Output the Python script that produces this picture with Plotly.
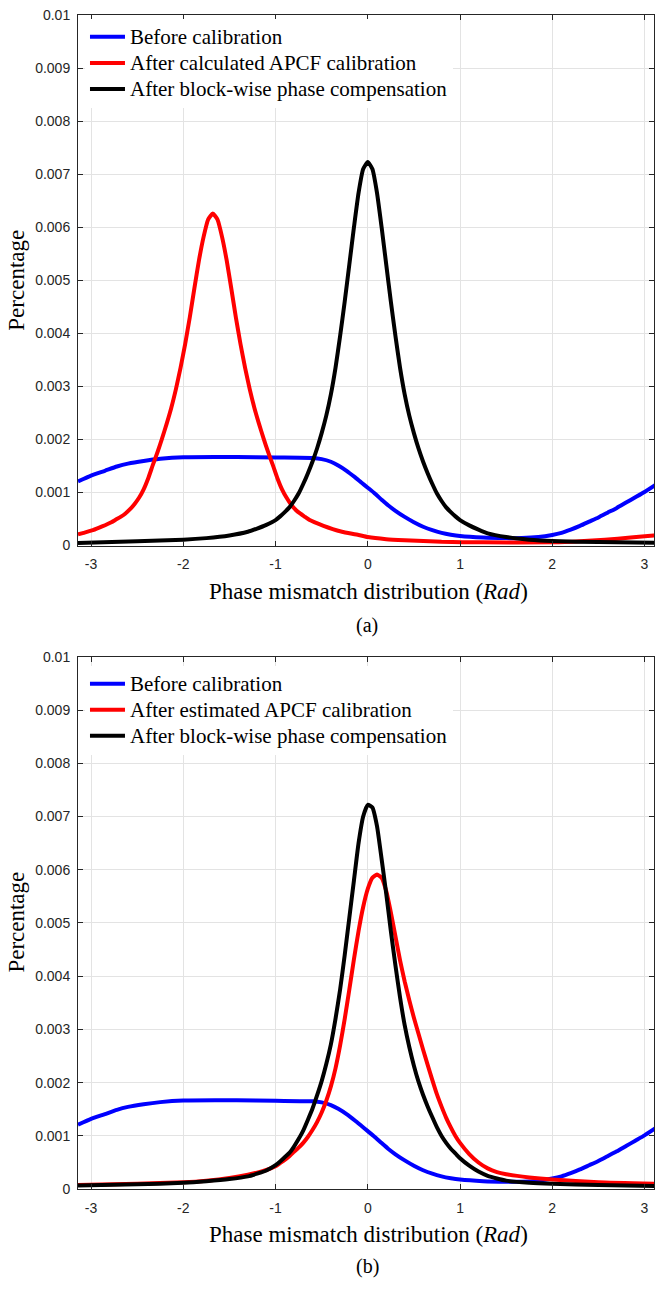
import plotly.graph_objects as go

# ---------------- data ----------------
PI = 3.14159265

# "Before calibration" (same in both panels)
blue_x = [-PI, -3.0, -2.85, -2.72, -2.6, -2.43, -2.25, -2.0, -1.42, -1.0, -0.6, -0.5, -0.4, -0.32,
          -0.23, -0.14, -0.07, 0.0, 0.07, 0.15, 0.22, 0.3, 0.4, 0.5, 0.6, 0.7, 0.8, 0.9, 1.0, 1.25,
          1.5, 1.67, 1.85, 2.0, 2.1, 2.2, 2.3, 2.4, 2.5, 2.6, 2.7, 2.8, 2.9, 3.0, PI]
blue_y = [0.00121, 0.00132, 0.00141, 0.00149, 0.001545, 0.001595, 0.001635, 0.001665, 0.00167, 0.00166,
          0.00165, 0.00163, 0.00158, 0.00151, 0.00141, 0.00129, 0.00119, 0.00109, 0.00099, 0.000865,
          0.00076, 0.000655, 0.00054, 0.00044, 0.000355, 0.00029, 0.00024, 0.000205, 0.00018,
          0.00015, 0.00014, 0.00014, 0.00016, 0.00020, 0.00024, 0.00030, 0.00037, 0.00045, 0.00053,
          0.00062, 0.00071, 0.00081, 0.00091, 0.00101, 0.00117]

# (a) "After calculated APCF calibration"
red_a_x = [-PI, -3.08, -2.98, -2.88, -2.78, -2.73, -2.68, -2.63, -2.58, -2.53, -2.48, -2.43, -2.38,
           -2.33, -2.28, -2.23, -2.18, -2.13, -2.08, -2.03, -1.98, -1.93, -1.88, -1.83, -1.78, -1.73,
           -1.68, -1.63, -1.58, -1.53, -1.48, -1.43, -1.38, -1.33, -1.28, -1.23, -1.18, -1.13, -1.08,
           -1.03, -0.98, -0.93, -0.88, -0.83, -0.78, -0.73, -0.68, -0.63, -0.58, -0.48, -0.38, -0.28,
           -0.1, 0.0, 0.2, 0.4, 0.8, 1.25, 2.0, 2.3, 2.57, 2.85, 3.1, PI]
red_a_y = [0.00021, 0.00024, 0.00029, 0.00036, 0.00044, 0.00049, 0.00054, 0.00060, 0.00068, 0.00078,
           0.00090, 0.00106, 0.00127, 0.00152, 0.00176, 0.00202, 0.00230, 0.00260, 0.00295, 0.00335,
           0.00380, 0.00430, 0.00485, 0.00538, 0.00582, 0.00615, 0.00626, 0.00615, 0.00582, 0.00538,
           0.00485, 0.00430, 0.00380, 0.00335, 0.00295, 0.00260, 0.00230, 0.00202, 0.00176, 0.00152,
           0.00127, 0.00106, 0.00090, 0.00077, 0.00067, 0.00060, 0.00054, 0.00048, 0.00044, 0.00037,
           0.00031, 0.00026, 0.00020, 0.00016, 0.00012, 0.00010, 0.00007, 0.00006, 0.00006, 0.00008,
           0.00011, 0.00015, 0.00019, 0.00020]

# (a) "After block-wise phase compensation"
black_a_x = [-PI, -2.5, -2.0, -1.75, -1.5, -1.3, -1.2, -1.1,
             -1.0, -0.95, -0.9, -0.85, -0.8, -0.75, -0.7, -0.65, -0.6, -0.55, -0.5, -0.45, -0.4,
             -0.35, -0.3, -0.25, -0.2, -0.15, -0.1, -0.05, 0.0, 0.05, 0.1, 0.15, 0.2, 0.25, 0.3,
             0.35, 0.4, 0.45, 0.5, 0.55, 0.6, 0.65, 0.7, 0.75, 0.8, 0.85, 0.9, 0.95, 1.0,
             1.1, 1.2, 1.3, 1.5, 1.75, 2.0, 2.5, PI]
black_a_y = [0.00005, 0.00008, 0.00011, 0.00014, 0.00019, 0.00026, 0.00032, 0.00039,
             0.00048, 0.00055, 0.00063, 0.00072, 0.00084, 0.00098, 0.00116, 0.00136, 0.00158,
             0.00183, 0.00212, 0.00245, 0.00285, 0.00335, 0.00395, 0.00460, 0.00530, 0.00600,
             0.00665, 0.00710, 0.00723, 0.00710, 0.00665, 0.00600, 0.00530, 0.00460, 0.00395,
             0.00335, 0.00285, 0.00245, 0.00212, 0.00183, 0.00158, 0.00136, 0.00116, 0.00098,
             0.00084, 0.00072, 0.00063, 0.00055, 0.00048,
             0.00038, 0.00030, 0.00023, 0.00016, 0.00011, 0.000085, 0.000065, 0.00005]

# (b) "After estimated APCF calibration"
red_b_x = [-PI, -2.5, -2.0, -1.75, -1.5, -1.3, -1.2, -1.1,
           -1.0, -0.95, -0.9, -0.85, -0.8, -0.75, -0.7, -0.65, -0.6, -0.55, -0.5, -0.45, -0.4,
           -0.35, -0.3, -0.25, -0.2, -0.15, -0.1, -0.05, 0.0, 0.05, 0.1,
           0.15, 0.2, 0.25, 0.3, 0.35, 0.4, 0.45, 0.5, 0.55, 0.6, 0.65, 0.7, 0.75, 0.8, 0.85, 0.9,
           0.95, 1.0, 1.1, 1.2, 1.3, 1.4, 1.5, 1.75, 2.0, 2.5, PI]
red_b_y = [0.00008, 0.00010, 0.00013, 0.00016, 0.00021, 0.00027, 0.00031, 0.00036,
           0.00043, 0.00049, 0.00055, 0.00062, 0.00070, 0.00078, 0.00087, 0.00098, 0.00111,
           0.00126, 0.00144, 0.00166, 0.00193, 0.00227, 0.00270, 0.00320, 0.00375, 0.00432,
           0.00485, 0.00530, 0.00564, 0.00585, 0.00591,
           0.00585, 0.00560, 0.00520, 0.00475, 0.00430, 0.00390, 0.00355, 0.00322, 0.00292,
           0.00262, 0.00233, 0.00205, 0.00178, 0.00155, 0.00134, 0.00116, 0.00100, 0.00087,
           0.00066, 0.00050, 0.00039, 0.00032, 0.00028, 0.00022, 0.00018, 0.00013, 0.00010]

# (b) "After block-wise phase compensation"
black_b_x = [-PI, -2.5, -2.0, -1.75, -1.5, -1.3, -1.2, -1.1,
             -1.0, -0.95, -0.9, -0.85, -0.8, -0.75, -0.7, -0.65, -0.6, -0.55, -0.5, -0.45, -0.4,
             -0.35, -0.3, -0.25, -0.2, -0.15, -0.1, -0.05, 0.0, 0.05, 0.1, 0.15, 0.2, 0.25, 0.3,
             0.35, 0.4, 0.45, 0.5, 0.55, 0.6, 0.65, 0.7, 0.75, 0.8, 0.85, 0.9, 0.95, 1.0,
             1.1, 1.2, 1.3, 1.4, 1.5, 1.75, 2.0, 2.5, PI]
black_b_y = [0.00007, 0.00009, 0.00012, 0.00015, 0.00019, 0.00024, 0.00029, 0.00035,
             0.00045, 0.00052, 0.00060, 0.00068, 0.00080, 0.00094, 0.00110, 0.00130, 0.00151,
             0.00176, 0.00203, 0.00235, 0.00272, 0.00320, 0.00375, 0.00440, 0.00510, 0.00580,
             0.00650, 0.00700, 0.00722, 0.00717, 0.00682, 0.00620, 0.00555, 0.00485, 0.00420,
             0.00360, 0.00308, 0.00267, 0.00232, 0.00202, 0.00177, 0.00155, 0.00135, 0.00116,
             0.00100, 0.00087, 0.00076, 0.00067, 0.00058,
             0.00044, 0.00033, 0.00025, 0.00020, 0.00016, 0.00012, 0.00010, 0.00008, 0.00006]

names_a = ["Before calibration", "After calculated APCF calibration", "After block-wise phase compensation"]
names_b = ["Before calibration", "After estimated APCF calibration", "After block-wise phase compensation"]
colors = ["#0000ff", "#ff0000", "#000000"]

x_ticks = [-3, -2, -1, 0, 1, 2, 3]
x_ticktext = ["-3", "-2", "-1", "0", "1", "2", "3"]
y_ticks = [0, 0.001, 0.002, 0.003, 0.004, 0.005, 0.006, 0.007, 0.008, 0.009, 0.01]
y_ticktext = ["0", "0.001", "0.002", "0.003", "0.004", "0.005", "0.006", "0.007", "0.008", "0.009", "0.01"]

xlabel_text = "Phase mismatch distribution (<i>Rad</i>)"
ylabel_text = "Percentage"

# ---------------- figure ----------------
W, H = 655, 1289
L = 78
PW = W - L
fig = go.Figure()

series = [
    ("x", "y", "legend", names_a, [(blue_x, blue_y), (red_a_x, red_a_y), (black_a_x, black_a_y)]),
    ("x2", "y2", "legend2", names_b, [(blue_x, blue_y), (red_b_x, red_b_y), (black_b_x, black_b_y)]),
]
for xa, ya, lg, names, data in series:
    for (xs, ys), nm, c in zip(data, names, colors):
        fig.add_trace(go.Scatter(
            x=xs, y=ys, mode="lines", xaxis=xa, yaxis=ya, legend=lg,
            name="<span style='font-size:21px'>" + nm + "</span>",
            line=dict(color=c, width=4, shape="spline", smoothing=0.5)))


def py2p(py):
    return 1 - py / H


def px2p(px):
    return (px - L) / PW


tick_font = dict(family="Liberation Sans, Arial", size=14, color="#262626")
x_right = -PI + PW / 92.4

common_x = dict(range=[-PI, x_right], tickvals=x_ticks, ticktext=x_ticktext, ticks="inside", ticklen=5,
                tickcolor="#262626", showline=True, linecolor="#262626", linewidth=1, mirror="ticks",
                showgrid=True, gridcolor="#e3e3e3", gridwidth=1, zeroline=False, tickfont=tick_font,
                domain=[0, 1], ticklabelstandoff=6)
common_y = dict(range=[0, 0.01], tickvals=y_ticks, ticktext=y_ticktext, ticks="inside", ticklen=5,
                tickcolor="#262626", showline=True, linecolor="#262626", linewidth=1, mirror="ticks",
                showgrid=True, gridcolor="#e3e3e3", gridwidth=1, zeroline=False, tickfont=tick_font,
                ticklabelstandoff=4)

leg_font = dict(family="Liberation Serif, Times New Roman", size=17.7, color="#000000")

fig.update_layout(
    width=W, height=H,
    margin=dict(l=L, r=0, t=0, b=0),
    paper_bgcolor="white", plot_bgcolor="white",
    showlegend=True,
    xaxis=dict(**common_x, anchor="y"),
    yaxis=dict(**common_y, anchor="x", domain=[py2p(544.3), py2p(7.3)]),
    xaxis2=dict(**common_x, anchor="y2"),
    yaxis2=dict(**common_y, anchor="x2", domain=[py2p(1196), py2p(657)]),
    legend=dict(x=px2p(85), y=py2p(11), xanchor="left", yanchor="top",
                bgcolor="white", borderwidth=0, font=leg_font, itemwidth=35, tracegroupgap=0),
    legend2=dict(x=px2p(85), y=py2p(666), xanchor="left", yanchor="top",
                 bgcolor="white", borderwidth=0, font=leg_font, itemwidth=35, tracegroupgap=0),
)

label_font = dict(family="Liberation Serif, Times New Roman", size=23, color="#000000")
cap_font = dict(family="Liberation Serif, Times New Roman", size=20, color="#000000")
annots = [
    dict(text=xlabel_text, x=px2p(369), y=py2p(591), font=label_font),
    dict(text="(a)", x=px2p(368), y=py2p(625), font=cap_font),
    dict(text=xlabel_text, x=px2p(369), y=py2p(1242), font=label_font),
    dict(text="(b)", x=px2p(368), y=py2p(1274), font=cap_font),
    dict(text=ylabel_text, x=px2p(16), y=py2p(276), font=label_font, textangle=-90),
    dict(text=ylabel_text, x=px2p(16), y=py2p(926), font=label_font, textangle=-90),
]
for a in annots:
    fig.add_annotation(xref="paper", yref="paper", xanchor="center", yanchor="middle",
                       showarrow=False, **a)

fig.write_html("out.html")
